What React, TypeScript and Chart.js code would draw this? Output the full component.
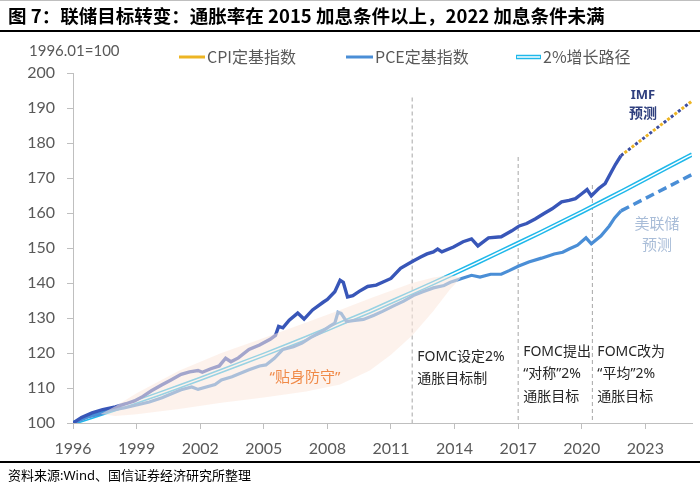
import React, { useEffect, useRef } from "react";
import { Chart, registerables } from "chart.js";

Chart.register(...registerables);

// ---------------- data ----------------
const cpiYears = [
  1996.0, 1996.4, 1996.9, 1997.4, 1998.0, 1998.5, 1998.9, 1999.3, 1999.7, 2000.2,
  2000.6, 2001.1, 2001.5, 2001.9, 2002.1, 2002.5, 2002.9, 2003.2, 2003.45, 2003.8,
  2004.3, 2004.8, 2005.3, 2005.55, 2005.7, 2005.9, 2006.2, 2006.6, 2006.9, 2007.3,
  2007.8, 2008.0, 2008.35, 2008.6, 2008.75, 2008.95, 2009.2, 2009.5, 2009.9, 2010.3,
  2010.6, 2011.0, 2011.45, 2011.8, 2012.05, 2012.4, 2012.7, 2013.0, 2013.2, 2013.4,
  2013.95, 2014.4, 2014.8, 2015.1, 2015.6, 2016.2, 2016.7, 2017.05, 2017.4, 2017.8,
  2018.2, 2018.6, 2019.05, 2019.4, 2019.7, 2020.0, 2020.25, 2020.45, 2020.8, 2021.1,
  2021.4, 2021.6, 2021.85,
];
const cpiValues = [
  100.0, 101.6, 102.9, 103.8, 104.6, 105.5, 106.3, 107.6, 109.2, 110.9,
  112.2, 113.9, 114.6, 115.0, 114.5, 115.5, 116.3, 118.5, 117.5, 118.6,
  121.0, 122.3, 123.9, 125.0, 127.6, 127.2, 129.4, 131.4, 129.7, 132.3,
  134.5, 135.3, 137.5, 140.8, 140.2, 136.0, 136.4, 137.6, 139.0, 139.4,
  140.2, 141.3, 144.2, 145.4, 146.3, 147.4, 148.3, 148.9, 149.7, 148.9,
  150.3, 151.8, 152.6, 150.6, 152.9, 153.2, 154.9, 156.3, 157.0, 158.3,
  159.8, 161.2, 163.2, 163.6, 164.1, 165.5, 166.7, 164.9, 167.0, 168.4,
  171.8, 174.0, 176.4,
];

const pceYears = [
  1996.0, 1996.7, 1997.3, 1997.8, 1998.4, 1998.9, 1999.6, 2000.2, 2000.7, 2001.1,
  2001.6, 2001.9, 2002.7, 2003.0, 2003.5, 2004.3, 2004.8, 2005.1, 2005.5, 2005.9,
  2006.4, 2006.8, 2007.2, 2007.7, 2008.1, 2008.35, 2008.5, 2008.65, 2008.9, 2009.3,
  2009.7, 2010.2, 2010.6, 2011.1, 2011.6, 2012.05, 2012.5, 2013.0, 2013.5, 2013.8,
  2014.3, 2014.8, 2015.2, 2015.7, 2016.2, 2016.6, 2017.0, 2017.5, 2018.1, 2018.7,
  2019.1, 2019.4, 2019.8, 2020.2, 2020.45, 2020.9, 2021.3, 2021.55, 2021.85,
];
const pceValues = [
  100.0, 101.7, 102.6, 103.7, 104.3, 105.0, 106.0, 107.2, 108.5, 109.5,
  110.3, 109.6, 111.0, 112.3, 113.2, 115.2, 116.3, 116.6, 118.5, 121.0,
  121.8, 122.8, 124.4, 126.0, 127.6, 128.5, 131.6, 131.3, 129.0, 129.3,
  129.6, 130.8, 131.9, 133.4, 134.8, 136.4, 137.5, 138.6, 139.3, 140.2,
  141.2, 142.2, 141.7, 142.5, 142.5, 143.6, 144.8, 146.0, 147.1, 148.3,
  148.8, 149.7, 150.8, 152.9, 151.2, 153.4, 156.3, 158.6, 160.6,
];

const pathYears = [
  1996, 1997, 1998, 1999, 2000, 2001, 2002, 2003, 2004, 2005, 2006, 2007, 2008,
  2009, 2010, 2011, 2012, 2013, 2014, 2015, 2016, 2017, 2018, 2019, 2020, 2021,
  2022, 2023, 2024, 2025, 2025.2,
];
const pathValues = [
  100.0, 102.0, 104.0, 106.1, 108.2, 110.4, 112.6, 114.9, 117.2, 119.5, 121.9, 124.3, 126.8,
  129.4, 131.9, 134.6, 137.3, 140.0, 142.8, 145.6, 148.5, 151.4, 154.3, 157.3, 160.3, 163.4,
  166.5, 169.7, 172.9, 176.1, 176.7,
];

const imfYears = [2021.85, 2025.2];
const imfValues = [176.4, 192.0];
const fedYears = [2021.85, 2025.2];
const fedValues = [160.6, 171.0];

const bandYears = [1997.3, 1998, 1999, 2001, 2003, 2005, 2007, 2008.6, 2010, 2011, 2012, 2013, 2013.8, 2014.3];
const bandUpper = [102.6, 104.8, 108.5, 114.9, 120.0, 124.3, 128.7, 132.3, 135.6, 137.8, 140.0, 141.6, 142.3, 141.5];
const bandLower = [102.6, 102.0, 102.5, 104.0, 105.8, 107.3, 109.0, 111.0, 115.0, 119.5, 125.0, 132.0, 138.3, 141.5];

const eventYears = [2012, 2017, 2020.5];
const eventTops = [193, 176, 168];
const eventLabels = [
  ["FOMC设定2%", "通胀目标制"],
  ["FOMC提出", "“对称”2%", "通胀目标"],
  ["FOMC改为", "“平均”2%", "通胀目标"],
];

const xTickValues = [1996, 1999, 2002, 2005, 2008, 2011, 2014, 2017, 2020, 2023];
const yMin = 100;
const yMax = 200;
const yStep = 10;

const titleText = "图 7：联储目标转变：通胀率在 2015 加息条件以上，2022 加息条件未满";
const unitText = "1996.01=100";
const legendLabels = ["CPI定基指数", "PCE定基指数", "2%增长路径"];
const sourceText = "资料来源:Wind、国信证券经济研究所整理";

// ---------------- styles ----------------
const CPI_COLOR = "#3856B8";
const PCE_COLOR = "#4A8ED6";
const PATH_COLOR = "#1FB8EA";
const GOLD = "#EDB524";
const NAVY = "#3A4C9E";
const AXIS = "#BFBFBF";
const TICK_TEXT = "#595959";
const LATIN_CJK = "'Noto Sans', 'Noto Sans CJK SC', sans-serif";

const pts = (xs: number[], ys: number[]) => xs.map((x, i) => ({ x, y: ys[i] }));

const overlayPlugin = {
  id: "overlay",
  afterDraw(chart: any) {
    const ctx = chart.ctx as CanvasRenderingContext2D;
    const xs = chart.scales.x;
    ctx.save();
    ctx.textBaseline = "middle";

    // top thin line & title
    ctx.fillStyle = "#BFBFBF";
    ctx.fillRect(0, 0, 700, 1);
    ctx.fillStyle = "#000";
    let size = 18;
    ctx.font = `bold ${size}px 'Noto Sans CJK SC', sans-serif`;
    const w = ctx.measureText(titleText).width;
    size = Math.min(19, size * (597 / w));
    ctx.font = `bold ${size.toFixed(2)}px 'Noto Sans CJK SC', sans-serif`;
    ctx.fillText(titleText, 8, 16);
    ctx.fillRect(0, 30, 700, 2);

    // unit label
    ctx.fillStyle = TICK_TEXT;
    ctx.font = "15px Lato, sans-serif";
    ctx.fillText(unitText, 29, 51);

    // legend
    const ly = 57;
    ctx.font = `16px 'Noto Sans CJK SC', sans-serif`;
    ctx.lineCap = "butt";
    ctx.strokeStyle = GOLD;
    ctx.lineWidth = 3;
    ctx.beginPath(); ctx.moveTo(179, ly); ctx.lineTo(205, ly); ctx.stroke();
    ctx.fillText(legendLabels[0], 207, ly);
    ctx.strokeStyle = PCE_COLOR;
    ctx.beginPath(); ctx.moveTo(346, ly); ctx.lineTo(373, ly); ctx.stroke();
    ctx.fillText(legendLabels[1], 375, ly);
    ctx.strokeStyle = PATH_COLOR;
    ctx.lineWidth = 4.5;
    ctx.beginPath(); ctx.moveTo(516, ly); ctx.lineTo(541, ly); ctx.stroke();
    ctx.strokeStyle = "#fff";
    ctx.lineWidth = 1.5;
    ctx.beginPath(); ctx.moveTo(517, ly); ctx.lineTo(540, ly); ctx.stroke();
    ctx.fillText(legendLabels[2], 543, ly);

    // event labels
    ctx.fillStyle = "#262626";
    ctx.font = `14px ${LATIN_CJK}`;
    eventLabels.forEach((lines, i) => {
      const px = xs.getPixelForValue(eventYears[i]) + 5;
      const top = i === 0 ? 357 : 352;
      lines.forEach((t, j) => ctx.fillText(t, px, top + j * 22.5));
    });

    // band text
    ctx.fillStyle = "#F08A48";
    ctx.font = `15px ${LATIN_CJK}`;
    ctx.textAlign = "center";
    ctx.fillText("“贴身防守”", 305, 378);

    // IMF forecast label
    ctx.fillStyle = "#2F3F7E";
    ctx.font = `bold 13px ${LATIN_CJK}`;
    ctx.fillText("IMF", 643, 95);
    ctx.font = `bold 14px ${LATIN_CJK}`;
    ctx.fillText("预测", 643, 114);

    // Fed forecast label
    ctx.fillStyle = "#A9BDD8";
    ctx.font = `15px ${LATIN_CJK}`;
    ctx.fillText("美联储", 657, 225);
    ctx.fillText("预测", 657, 246);

    // bottom line & source
    ctx.textAlign = "left";
    ctx.fillStyle = "#000";
    ctx.fillRect(0, 461, 700, 2);
    ctx.font = `13px ${LATIN_CJK}`;
    ctx.fillText(sourceText, 8, 476);
    ctx.restore();
  },
};

export default function App() {
  const ref = useRef<HTMLCanvasElement | null>(null);

  useEffect(() => {
    document.body.style.margin = "0";
    const canvas = ref.current;
    if (!canvas) return;

    const line = (data: any[], color: string, width: number, order: number, extra: any = {}) => ({
      data,
      borderColor: color,
      backgroundColor: color,
      borderWidth: width,
      pointRadius: 0,
      tension: 0,
      fill: false,
      order,
      ...extra,
    });

    const datasets: any[] = [];
    eventYears.forEach((yr, i) => {
      datasets.push(
        line(
          [
            { x: yr, y: eventTops[i] },
            { x: yr, y: yMin },
          ],
          "#A6A6A6",
          1,
          20,
          { borderDash: [4, 3] }
        )
      );
    });
    datasets.push(line(pts(pathYears, pathValues), PATH_COLOR, 4.5, 9));
    datasets.push(line(pts(pathYears, pathValues), "#FFFFFF", 1.5, 8));
    datasets.push(line(pts(pceYears, pceValues), PCE_COLOR, 3.2, 7));
    datasets.push(line(pts(cpiYears, cpiValues), CPI_COLOR, 3.4, 6));
    // band (fill drawn over the lines, fading them)
    datasets.push(
      line(pts(bandYears, bandUpper), "rgba(0,0,0,0)", 0, 2, {
        fill: "+1",
        backgroundColor: "rgba(252,232,220,0.55)",
      })
    );
    datasets.push(line(pts(bandYears, bandLower), "rgba(0,0,0,0)", 0, 2));
    // forecasts
    datasets.push(line(pts(fedYears, fedValues), PCE_COLOR, 3.5, 1, { borderDash: [9, 5] }));
    datasets.push(line(pts(imfYears, imfValues), GOLD, 3, 1, { borderDash: [3, 6], borderDashOffset: 4.5 }));
    datasets.push(line(pts(imfYears, imfValues), NAVY, 3, 0, { borderDash: [3, 6] }));

    const chart = new Chart(canvas, {
      type: "line",
      data: { datasets },
      options: {
        responsive: false,
        devicePixelRatio: 1,
        animation: false,
        events: [],
        layout: { padding: { top: 73, right: 8, left: 0, bottom: 0 } },
        plugins: {
          legend: { display: false },
          tooltip: { enabled: false },
          title: { display: false },
        },
        scales: {
          x: {
            type: "linear",
            min: 1996,
            max: 2025.2,
            afterBuildTicks: (scale: any) => {
              scale.ticks = xTickValues.map((v) => ({ value: v }));
            },
            afterFit: (scale: any) => {
              scale.height = 67;
            },
            grid: { drawOnChartArea: false, drawTicks: true, tickLength: 6, color: AXIS },
            border: { color: AXIS, width: 1 },
            ticks: {
              autoSkip: false,
              maxRotation: 0,
              padding: 10,
              color: TICK_TEXT,
              font: { family: "Lato", size: 16 },
              callback: (v: any) => String(v),
            },
          },
          y: {
            type: "linear",
            min: yMin,
            max: yMax,
            afterFit: (scale: any) => {
              scale.width = 73;
            },
            grid: { drawOnChartArea: false, drawTicks: true, tickLength: 6, color: AXIS },
            border: { color: AXIS, width: 1 },
            ticks: {
              stepSize: yStep,
              padding: 12,
              color: TICK_TEXT,
              font: { family: "Lato", size: 16 },
            },
          },
        },
      },
      plugins: [overlayPlugin],
    });
    return () => chart.destroy();
  }, []);

  return <canvas ref={ref} width={700} height={490} style={{ display: "block" }} />;
}
